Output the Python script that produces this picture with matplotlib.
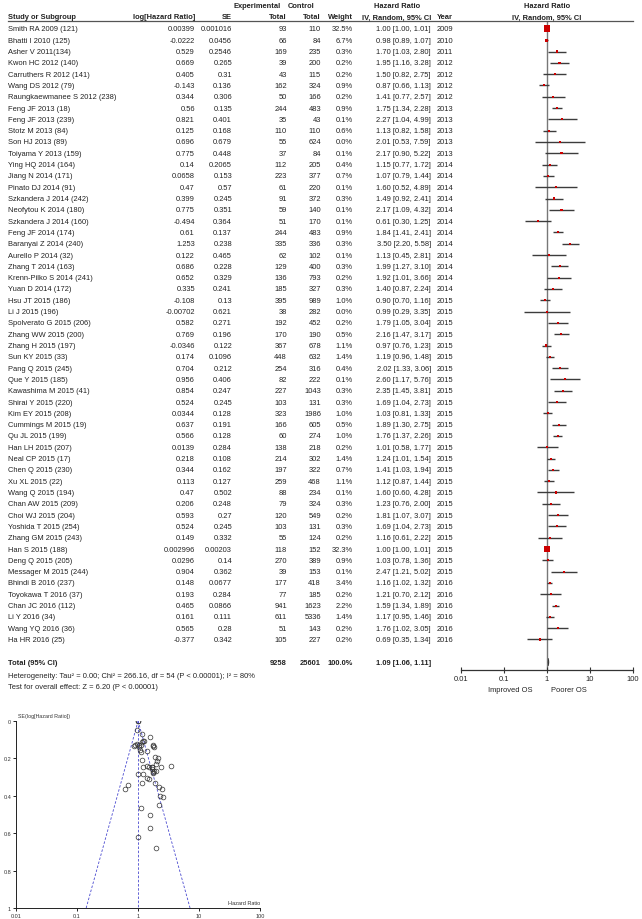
import numpy as np
import matplotlib
matplotlib.use('Agg')
import matplotlib.pyplot as plt
import matplotlib.transforms as mtransforms
from matplotlib.lines import Line2D

plt.rcParams['font.family'] = ['Liberation Sans', 'DejaVu Sans']

studies = ['Smith RA 2009 (121)', 'Bhatti I 2010 (125)', 'Asher V 2011(134)', 'Kwon HC 2012 (140)',
           'Carruthers R 2012 (141)', 'Wang DS 2012 (79)', 'Raungkaewmanee S 2012 (238)', 'Feng JF 2013 (18)',
           'Feng JF 2013 (239)', 'Stotz M 2013 (84)', 'Son HJ 2013 (89)', 'Toiyama Y 2013 (159)',
           'Ying HQ 2014 (164)', 'Jiang N 2014 (171)', 'Pinato DJ 2014 (91)', 'Szkandera J 2014 (242)',
           'Neofytou K 2014 (180)', 'Szkandera J 2014 (160)', 'Feng JF 2014 (174)', 'Baranyai Z 2014 (240)',
           'Aurello P 2014 (32)', 'Zhang T 2014 (163)', 'Krenn-Pilko S 2014 (241)', 'Yuan D 2014 (172)',
           'Hsu JT 2015 (186)', 'Li J 2015 (196)', 'Spolverato G 2015 (206)', 'Zhang WW 2015 (200)',
           'Zhang H 2015 (197)', 'Sun KY 2015 (33)', 'Pang Q 2015 (245)', 'Que Y 2015 (185)',
           'Kawashima M 2015 (41)', 'Shirai Y 2015 (220)', 'Kim EY 2015 (208)', 'Cummings M 2015 (19)',
           'Qu JL 2015 (199)', 'Han LH 2015 (207)', 'Neal CP 2015 (17)', 'Chen Q 2015 (230)',
           'Xu XL 2015 (22)', 'Wang Q 2015 (194)', 'Chan AW 2015 (209)', 'Choi WJ 2015 (204)',
           'Yoshida T 2015 (254)', 'Zhang GM 2015 (243)', 'Han S 2015 (188)', 'Deng Q 2015 (205)',
           'Messager M 2015 (244)', 'Bhindi B 2016 (237)', 'Toyokawa T 2016 (37)', 'Chan JC 2016 (112)',
           'Li Y 2016 (34)', 'Wang YQ 2016 (36)', 'Ha HR 2016 (25)']
log_hr = [0.00399, -0.0222, 0.529, 0.669, 0.405, -0.143, 0.344, 0.56, 0.821, 0.125, 0.696, 0.775,
          0.14, 0.0658, 0.47, 0.399, 0.775, -0.494, 0.61, 1.253, 0.122, 0.686, 0.652, 0.335,
          -0.108, -0.00702, 0.582, 0.769, -0.0346, 0.174, 0.704, 0.956, 0.854, 0.524, 0.0344, 0.637,
          0.566, 0.0139, 0.218, 0.344, 0.113, 0.47, 0.206, 0.593, 0.524, 0.149, 0.002996, 0.0296,
          0.904, 0.148, 0.193, 0.465, 0.161, 0.565, -0.377]
se = [0.001016, 0.0456, 0.2546, 0.265, 0.31, 0.136, 0.306, 0.135, 0.401, 0.168, 0.679, 0.448,
      0.2065, 0.153, 0.57, 0.245, 0.351, 0.364, 0.137, 0.238, 0.465, 0.228, 0.329, 0.241,
      0.13, 0.621, 0.271, 0.196, 0.122, 0.1096, 0.212, 0.406, 0.247, 0.245, 0.128, 0.191,
      0.128, 0.284, 0.108, 0.162, 0.127, 0.502, 0.248, 0.27, 0.245, 0.332, 0.00203, 0.14,
      0.362, 0.0677, 0.284, 0.0866, 0.111, 0.28, 0.342]
exp_total = [93, 66, 169, 39, 43, 162, 50, 244, 35, 110, 55, 37, 112, 223, 61, 91, 59, 51, 244, 335,
             62, 129, 136, 185, 395, 38, 192, 170, 367, 448, 254, 82, 227, 103, 323, 166, 60, 138,
             214, 197, 259, 88, 79, 120, 103, 55, 118, 270, 39, 177, 77, 941, 611, 51, 105]
ctrl_total = [110, 84, 235, 200, 115, 324, 166, 483, 43, 110, 624, 84, 205, 377, 220, 372, 140, 170,
              483, 336, 102, 400, 793, 327, 989, 282, 452, 190, 678, 632, 316, 222, 1043, 131, 1986,
              605, 274, 218, 302, 322, 468, 234, 324, 549, 131, 124, 152, 389, 153, 418, 185, 1623,
              5336, 143, 227]
weight = [32.5, 6.7, 0.3, 0.2, 0.2, 0.9, 0.2, 0.9, 0.1, 0.6, 0.0, 0.1, 0.4, 0.7, 0.1, 0.3, 0.1, 0.1,
          0.9, 0.3, 0.1, 0.3, 0.2, 0.3, 1.0, 0.0, 0.2, 0.5, 1.1, 1.4, 0.4, 0.1, 0.3, 0.3, 1.0, 0.5,
          1.0, 0.2, 1.4, 0.7, 1.1, 0.1, 0.3, 0.2, 0.3, 0.2, 32.3, 0.9, 0.1, 3.4, 0.2, 2.2, 1.4, 0.2, 0.2]
hr = [1.00, 0.98, 1.70, 1.95, 1.50, 0.87, 1.41, 1.75, 2.27, 1.13, 2.01, 2.17, 1.15, 1.07, 1.60, 1.49,
      2.17, 0.61, 1.84, 3.50, 1.13, 1.99, 1.92, 1.40, 0.90, 0.99, 1.79, 2.16, 0.97, 1.19, 2.02, 2.60,
      2.35, 1.69, 1.03, 1.89, 1.76, 1.01, 1.24, 1.41, 1.12, 1.60, 1.23, 1.81, 1.69, 1.16, 1.00, 1.03,
      2.47, 1.16, 1.21, 1.59, 1.17, 1.76, 0.69]
ci_lo = [1.00, 0.89, 1.03, 1.16, 0.82, 0.66, 0.77, 1.34, 1.04, 0.82, 0.53, 0.90, 0.77, 0.79, 0.52, 0.92,
         1.09, 0.30, 1.41, 2.20, 0.45, 1.27, 1.01, 0.87, 0.70, 0.29, 1.05, 1.47, 0.76, 0.96, 1.33, 1.17,
         1.45, 1.04, 0.81, 1.30, 1.37, 0.58, 1.01, 1.03, 0.87, 0.60, 0.76, 1.07, 1.04, 0.61, 1.00, 0.78,
         1.21, 1.02, 0.70, 1.34, 0.95, 1.02, 0.35]
ci_hi = [1.01, 1.07, 2.80, 3.28, 2.75, 1.13, 2.57, 2.28, 4.99, 1.58, 7.59, 5.22, 1.72, 1.44, 4.89, 2.41,
         4.32, 1.25, 2.41, 5.58, 2.81, 3.10, 3.66, 2.24, 1.16, 3.35, 3.04, 3.17, 1.23, 1.48, 3.06, 5.76,
         3.81, 2.73, 1.33, 2.75, 2.26, 1.77, 1.54, 1.94, 1.44, 4.28, 2.00, 3.07, 2.73, 2.22, 1.01, 1.36,
         5.02, 1.32, 2.12, 1.89, 1.46, 3.05, 1.34]
year = [2009, 2010, 2011, 2012, 2012, 2012, 2012, 2013, 2013, 2013, 2013, 2013, 2014, 2014, 2014, 2014,
        2014, 2014, 2014, 2014, 2014, 2014, 2014, 2014, 2015, 2015, 2015, 2015, 2015, 2015, 2015, 2015,
        2015, 2015, 2015, 2015, 2015, 2015, 2015, 2015, 2015, 2015, 2015, 2015, 2015, 2015, 2015, 2015,
        2015, 2016, 2016, 2016, 2016, 2016, 2016]

total_exp, total_ctrl = 9258, 25601
total_hr, total_lo, total_hi = 1.09, 1.06, 1.11
heterogeneity = 'Heterogeneity: Tau\u00b2 = 0.00; Chi\u00b2 = 266.16, df = 54 (P < 0.00001); I\u00b2 = 80%'
overall = 'Test for overall effect: Z = 6.20 (P < 0.00001)'
hr_ticks = [0.01, 0.1, 1, 10, 100]
hr_ticklabels = ['0.01', '0.1', '1', '10', '100']
se_ticks = [0, 0.2, 0.4, 0.6, 0.8, 1]
se_ticklabels = ['0', '0.2', '0.4', '0.6', '0.8', '1']

W, H = 642, 920
FS = 5.4
TXT = '#222222'

fig = plt.figure(figsize=(W / 100, H / 100), dpi=100)

# forest panel: rows are data y, x is hazard ratio
top_px, bot_px = 22, 671
ax = fig.add_axes([461 / W, 1 - bot_px / H, 172 / W, (bot_px - top_px) / H])
ax.set_xscale('log')
ax.set_xlim(0.01, 100)
ax.set_ylim(56.7, -0.7)
for s in ['top', 'left', 'right']:
    ax.spines[s].set_visible(False)
ax.spines['bottom'].set_color('#333333')
ax.spines['bottom'].set_linewidth(0.9)
ax.set_yticks([])
ax.set_xticks(hr_ticks)
ax.set_xticklabels(hr_ticklabels)
ax.xaxis.set_minor_locator(matplotlib.ticker.NullLocator())
ax.tick_params(axis='x', direction='inout', length=5, width=0.8, color='#333333',
               labelsize=FS, labelcolor=TXT, pad=1)
ax.axvline(1, color='#777777', lw=1.0, zorder=1)

rows = np.arange(len(studies))
ax.hlines(rows, ci_lo, ci_hi, color='#3c3c3c', lw=1.0, zorder=2)
sizes = np.maximum(np.sqrt(np.array(weight) / 32.5) * 5.0, 1.5)
ax.scatter(hr, rows, s=sizes ** 2, marker='s', color='#cc0000', linewidths=0, zorder=3)

total_row = len(studies) + 1
ax.fill([total_lo, total_hr, total_hi, total_hr],
        [total_row, total_row - 0.35, total_row, total_row + 0.35],
        color='#333333', lw=0.4, zorder=3)

tr = mtransforms.blended_transform_factory(fig.transFigure, ax.transData)


def put(xp, row, s, ha='right', bold=False):
    fig.text(xp / W, row, s, transform=tr, ha=ha, va='center', fontsize=FS, color=TXT,
             fontweight='bold' if bold else 'normal')


# headers
put(257, -2.1, 'Experimental', ha='center', bold=True)
put(301, -2.1, 'Control', ha='center', bold=True)
put(397, -2.1, 'Hazard Ratio', ha='center', bold=True)
put(547, -2.1, 'Hazard Ratio', ha='center', bold=True)
put(8, -1.06, 'Study or Subgroup', ha='left', bold=True)
put(195, -1.06, 'log[Hazard Ratio]', bold=True)
put(232, -1.06, 'SE', bold=True)
put(287, -1.06, 'Total', bold=True)
put(321, -1.06, 'Total', bold=True)
put(353, -1.06, 'Weight', bold=True)
put(431, -1.06, 'IV, Random, 95% CI', bold=True)
put(437, -1.06, 'Year', ha='left', bold=True)
put(547, -1.06, 'IV, Random, 95% CI', ha='center', bold=True)
fig.add_artist(Line2D([8 / W, 633 / W], [-0.7, -0.7], transform=tr, color='#555555', lw=0.9))

for i in rows:
    put(8, i, studies[i], ha='left')
    put(195, i, str(log_hr[i]))
    put(232, i, str(se[i]))
    put(287, i, str(exp_total[i]))
    put(321, i, str(ctrl_total[i]))
    put(353, i, f'{weight[i]:.1f}%')
    put(431, i, f'{hr[i]:.2f} [{ci_lo[i]:.2f}, {ci_hi[i]:.2f}]')
    put(437, i, str(year[i]), ha='left')

put(8, total_row, 'Total (95% CI)', ha='left', bold=True)
put(287, total_row, str(total_exp), bold=True)
put(321, total_row, str(total_ctrl), bold=True)
put(353, total_row, '100.0%', bold=True)
put(431, total_row, f'{total_hr:.2f} [{total_lo:.2f}, {total_hi:.2f}]', bold=True)
put(8, 57.15, heterogeneity, ha='left')
put(8, 58.2, overall, ha='left')
put(533, 58.4, 'Improved OS', ha='right')
put(551, 58.4, 'Poorer OS', ha='left')

# funnel plot
fx = fig.add_axes([16 / W, 1 - 909 / H, 244 / W, 187 / H])
fx.set_xscale('log')
fx.set_xlim(0.01, 100)
fx.set_ylim(1, 0)
fx.spines['top'].set_visible(False)
fx.spines['right'].set_visible(False)
for s in ['left', 'bottom']:
    fx.spines[s].set_linewidth(0.7)
    fx.spines[s].set_color('#222222')
fx.set_xticks(hr_ticks)
fx.set_xticklabels(hr_ticklabels)
fx.xaxis.set_minor_locator(matplotlib.ticker.NullLocator())
fx.set_yticks(se_ticks)
fx.set_yticklabels(se_ticklabels)
fx.tick_params(length=2.5, width=0.6, labelsize=4, pad=1, labelcolor='#333333')

lhr = np.array(log_hr)
w_fe = 1 / np.array(se) ** 2
center = np.exp(np.sum(w_fe * lhr) / np.sum(w_fe))
se_line = np.array([0.0, 1.0])
fx.plot([center, center], se_line, ls='--', color='#4a4ad0', lw=0.6, dashes=(3, 2))
fx.plot(center * np.exp(-1.96 * se_line), se_line, ls='--', color='#4a4ad0', lw=0.6, dashes=(3, 2))
fx.plot(center * np.exp(1.96 * se_line), se_line, ls='--', color='#4a4ad0', lw=0.6, dashes=(3, 2))
fx.plot(np.exp(lhr), se, ls='none', marker='o', mfc='none', mec='#333333', ms=3.4, mew=0.5)
fx.text(0.01, 1.015, 'SE(log[Hazard Ratio])', transform=fx.transAxes, fontsize=3.8,
        color='#333333', ha='left', va='bottom')
fx.text(1.0, 0.015, 'Hazard Ratio', transform=fx.transAxes, fontsize=4,
        color='#333333', ha='right', va='bottom')

fig.savefig('out.png', dpi=100)
